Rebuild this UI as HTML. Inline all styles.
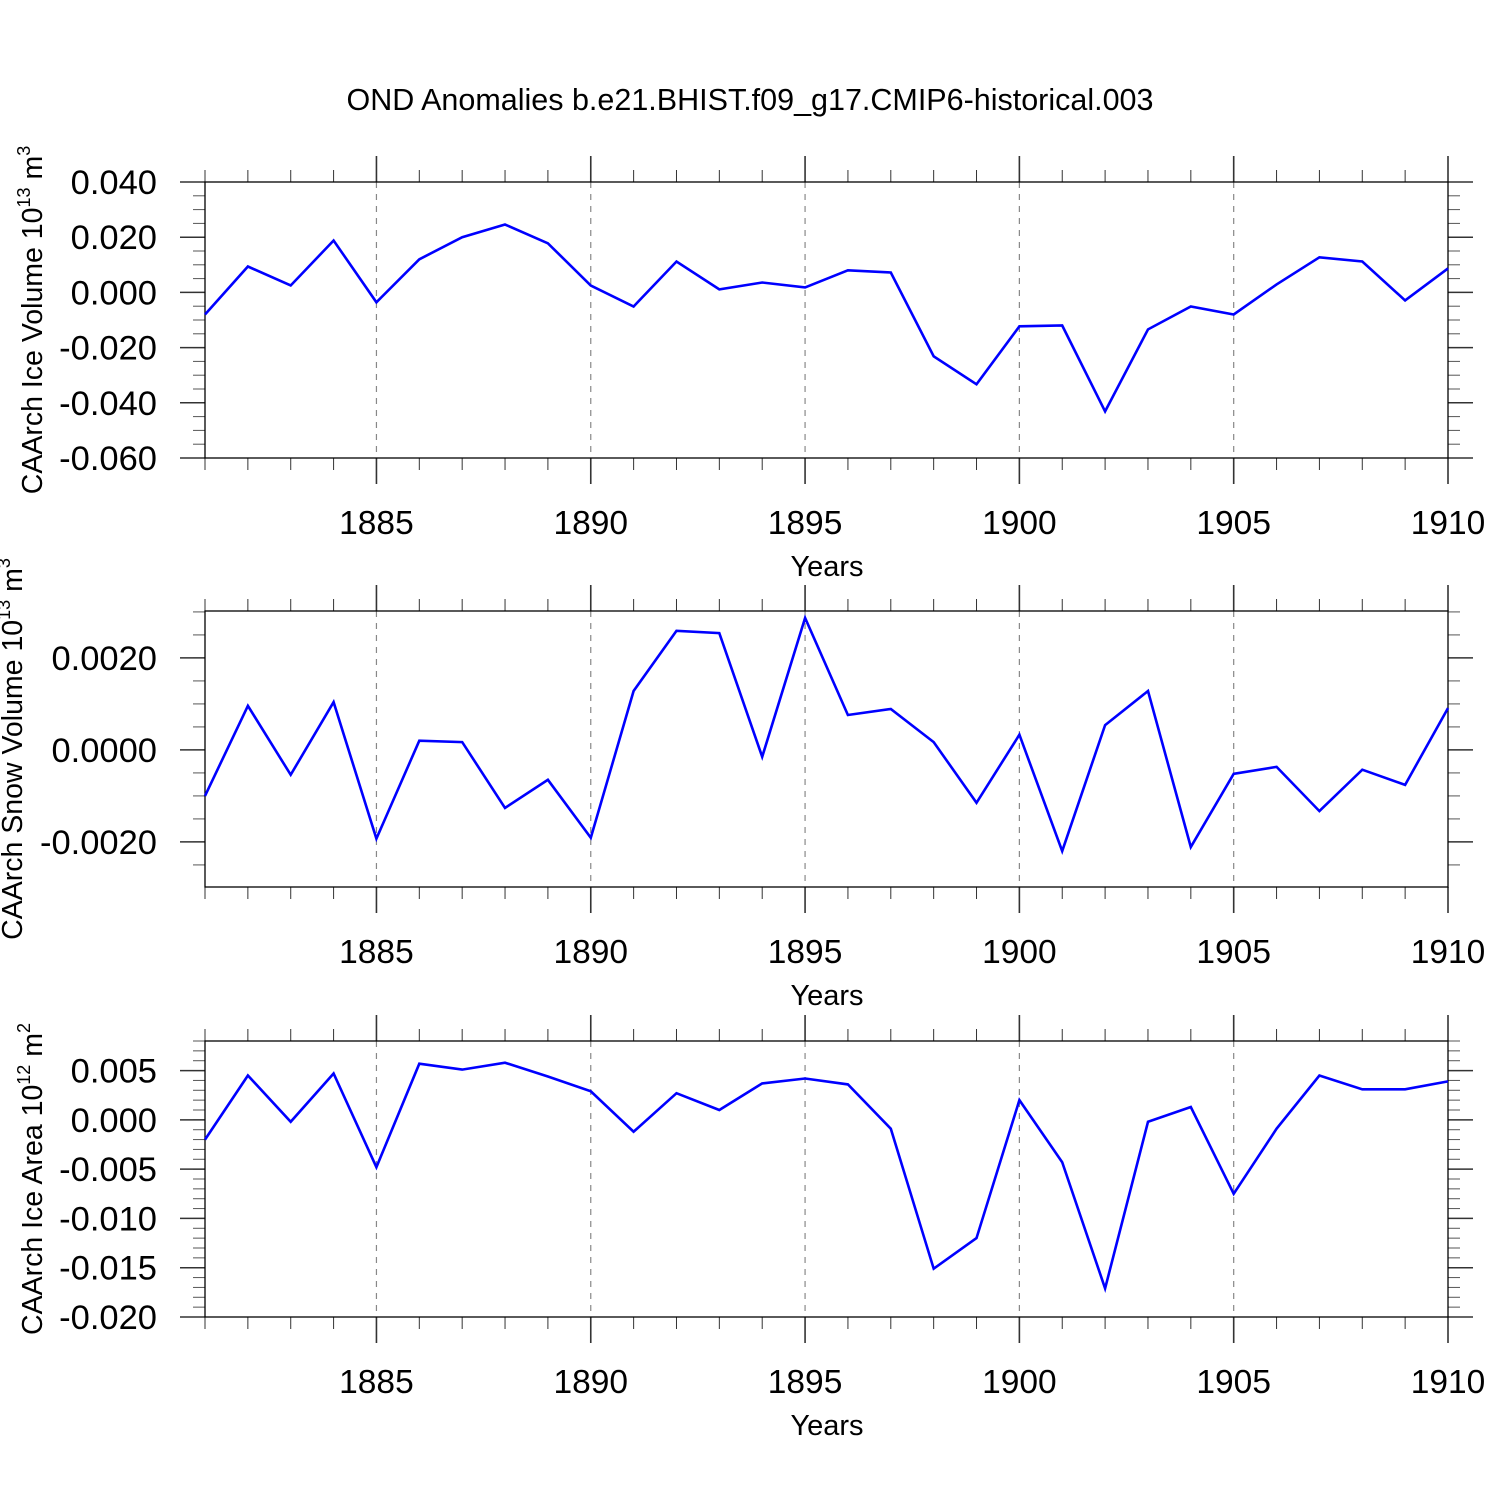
<!DOCTYPE html>
<html><head><meta charset="utf-8"><style>
html,body{margin:0;padding:0;background:#fff;}
svg{display:block;font-family:"Liberation Sans",sans-serif;}
</style></head><body>
<svg id="chart" width="1500" height="1500" viewBox="0 0 1500 1500">
<text x="750" y="110" text-anchor="middle" font-size="30.5">OND Anomalies b.e21.BHIST.f09_g17.CMIP6-historical.003</text>
</svg>
<script>
const years = [1881,1882,1883,1884,1885,1886,1887,1888,1889,1890,1891,1892,1893,1894,1895,1896,1897,1898,1899,1900,1901,1902,1903,1904,1905,1906,1907,1908,1909,1910];
const iceVolume = [-0.008,0.0094,0.0025,0.0188,-0.0036,0.012,0.020,0.0246,0.0178,0.0025,-0.0051,0.0112,0.0011,0.0036,0.0018,0.008,0.0072,-0.0232,-0.0333,-0.0123,-0.012,-0.0431,-0.0134,-0.0051,-0.008,0.0029,0.0127,0.0112,-0.0029,0.0087];
const snowVolume = [-0.0010,0.00096,-0.00054,0.00104,-0.00193,0.0002,0.00017,-0.00126,-0.00065,-0.00191,0.00128,0.00259,0.00254,-0.00015,0.00287,0.00076,0.00089,0.00017,-0.00115,0.00033,-0.0022,0.00054,0.00128,-0.00211,-0.00052,-0.00037,-0.00133,-0.00043,-0.00076,0.00091];
const iceArea = [-0.0020,0.0045,-0.0002,0.0047,-0.0048,0.0057,0.0051,0.0058,0.0044,0.0029,-0.0012,0.0027,0.0010,0.0037,0.0042,0.0036,-0.0009,-0.0151,-0.0120,0.0020,-0.0043,-0.0171,-0.0002,0.0013,-0.0075,-0.0009,0.0045,0.0031,0.0031,0.0039];
const xTickLabels = ["1885","1890","1895","1900","1905","1910"];
const iceVolumeTicks = ["0.040","0.020","0.000","-0.020","-0.040","-0.060"];
const snowVolumeTicks = ["0.0020","0.0000","-0.0020"];
const iceAreaTicks = ["0.005","0.000","-0.005","-0.010","-0.015","-0.020"];

const NS="http://www.w3.org/2000/svg";
const svg=document.getElementById('chart');
function mk(tag,attrs,parent){const e=document.createElementNS(NS,tag);for(const k in attrs)e.setAttribute(k,attrs[k]);(parent||svg).appendChild(e);return e;}
const X0=205,X1=1448,xmin=1881,xmax=1910;
function xs(v){return X0+(v-xmin)/(xmax-xmin)*(X1-X0);}

function panel(cfg){
  const g=mk('g',{});
  
  
  const ys=v=>cfg.bot+(v-cfg.ymin)/(cfg.ymax-cfg.ymin)*(cfg.top-cfg.bot);
  for(let y=1885;y<=1905;y+=5){
    const l=mk('line',{x1:xs(y),x2:xs(y),y1:cfg.top,y2:cfg.bot,stroke:'#888','stroke-width':1.2,'stroke-dasharray':'6,6'},g);
    
    
  }
  for(let y=xmin;y<=xmax;y++){
    const major=y%5===0; const len=major?26:12;
    mk('line',{x1:xs(y),x2:xs(y),y1:cfg.top-len,y2:cfg.top,stroke:'#333','stroke-width':major?1.6:1},g);
    mk('line',{x1:xs(y),x2:xs(y),y1:cfg.bot,y2:cfg.bot+len,stroke:'#333','stroke-width':major?1.6:1},g);
  }
  xTickLabels.forEach(t=>{
    const tx=mk('text',{x:xs(+t),y:cfg.bot+76,'text-anchor':'middle','font-size':33.5},g);
    tx.textContent=t;
    
    
  });
  const start=Math.ceil(cfg.ymin/cfg.minor-1e-6)*cfg.minor;
  for(let v=start;v<=cfg.ymax+1e-9;v+=cfg.minor){
    const y=ys(v);
    mk('line',{x1:X0-12,x2:X0,y1:y,y2:y,stroke:'#555','stroke-width':1},g);
    mk('line',{x1:X1,x2:X1+12,y1:y,y2:y,stroke:'#555','stroke-width':1},g);
  }
  cfg.ticks.forEach(t=>{
    const y=ys(parseFloat(t));
    mk('line',{x1:X0-25,x2:X0,y1:y,y2:y,stroke:'#333','stroke-width':1.5},g);
    mk('line',{x1:X1,x2:X1+25,y1:y,y2:y,stroke:'#333','stroke-width':1.5},g);
    const tx=mk('text',{x:157,y:y+12,'text-anchor':'end','font-size':34.5},g);
    tx.textContent=t;
    
    
  });
  const box=mk('rect',{x:X0,y:cfg.top,width:X1-X0,height:cfg.bot-cfg.top,fill:'none',stroke:'#000','stroke-width':1.3},g);
  
  
  const pts=years.map((yr,i)=>xs(yr).toFixed(1)+','+ys(cfg.data[i]).toFixed(1)).join(' ');
  const pl=mk('polyline',{points:pts,fill:'none',stroke:'#0000ff','stroke-width':2.6,'stroke-linejoin':'miter'},g);
  
  
  const xt=mk('text',{x:827,y:cfg.bot+118,'text-anchor':'middle','font-size':29},g);
  xt.textContent='Years';
  
  
  const yt=mk('text',{transform:`translate(${cfg.ytx},${(cfg.top+cfg.bot)/2}) rotate(-90)`,'text-anchor':'middle','font-size':28.5},g);
  yt.innerHTML=cfg.ytitle;
  
  
}
panel({name:'ice-volume-panel',top:182,bot:458,ymin:-0.06,ymax:0.04,minor:0.005,ticks:iceVolumeTicks,data:iceVolume,ytx:42,
  ytitle:'CAArch Ice Volume 10<tspan font-size="18" dy="-12">13</tspan><tspan dy="12"> m</tspan><tspan font-size="18" dy="-12">3</tspan>'});
panel({name:'snow-volume-panel',top:611,bot:887,ymin:-0.00298,ymax:0.00302,minor:0.0005,ticks:snowVolumeTicks,data:snowVolume,ytx:22,
  ytitle:'CAArch Snow Volume 10<tspan font-size="18" dy="-12">13</tspan><tspan dy="12"> m</tspan><tspan font-size="18" dy="-12">3</tspan>'});
panel({name:'ice-area-panel',top:1041,bot:1317,ymin:-0.02,ymax:0.008,minor:0.001,ticks:iceAreaTicks,data:iceArea,ytx:42,
  ytitle:'CAArch Ice Area 10<tspan font-size="18" dy="-12">12</tspan><tspan dy="12"> m</tspan><tspan font-size="18" dy="-12">2</tspan>'});
</script>
</body></html>
